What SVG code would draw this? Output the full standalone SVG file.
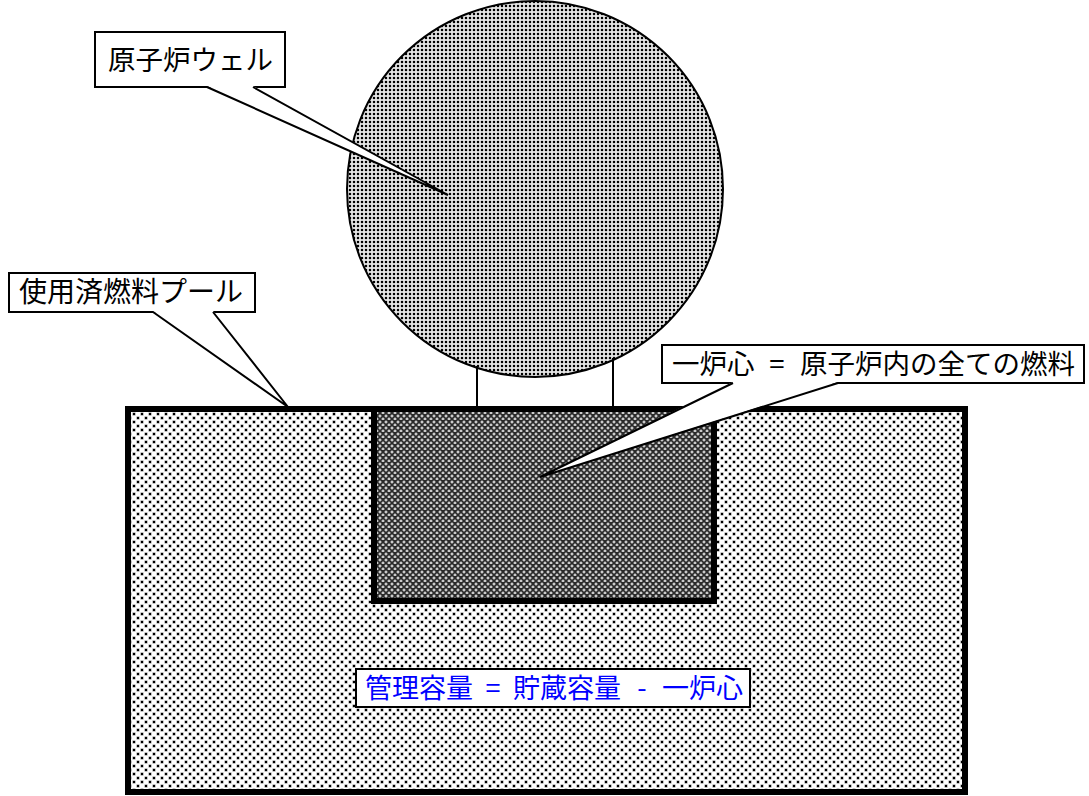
<svg xmlns="http://www.w3.org/2000/svg" width="1089" height="796" viewBox="0 0 1089 796">
<style>
.lbl{font-family:"Noto Sans CJK JP","Noto Sans",sans-serif;font-size:27px;fill:#000}
.mid{text-anchor:middle}
.blue{fill:#0000ff}
.box{fill:#fff;stroke:#000;stroke-width:2}
.tail{fill:#fff;stroke:none}
.tline{fill:none;stroke:#000;stroke-width:2;stroke-linejoin:miter}
.ln{stroke:#000;stroke-width:2}
</style>
<defs>
<pattern id="pWell" width="4" height="4" patternUnits="userSpaceOnUse">
<rect width="4" height="4" fill="#fff"/>
<rect x="0.5" y="0.5" width="3" height="3" fill="#999"/>
<rect x="1" y="1" width="2" height="2" fill="#000"/>
</pattern>
<pattern id="pPool" width="8" height="8" patternUnits="userSpaceOnUse">
<rect width="8" height="8" fill="#fff"/>
<rect x="0.5" y="0.5" width="3" height="3" fill="#888"/>
<rect x="1" y="1" width="2" height="2" fill="#000"/>
<rect x="4.5" y="4.5" width="3" height="3" fill="#888"/>
<rect x="5" y="5" width="2" height="2" fill="#000"/>
</pattern>
<pattern id="pCore" width="6" height="6" patternUnits="userSpaceOnUse">
<rect width="6" height="6" fill="#2a2a2a"/>
<rect x="0.5" y="1.5" width="3" height="1" fill="#fff"/>
<rect x="1.5" y="0.5" width="1" height="3" fill="#fff"/>
<rect x="3.5" y="4.5" width="3" height="1" fill="#fff"/>
<rect x="4.5" y="3.5" width="1" height="3" fill="#fff"/>
<rect x="-0.5" y="4.5" width="1" height="1" fill="#fff"/>
</pattern>
</defs>

<g id="reactor-well">
<circle cx="535" cy="189" r="188" fill="url(#pWell)" stroke="#000" stroke-width="2"/>
</g>

<g id="connectors">
<line class="ln" x1="477" y1="366" x2="477" y2="407"/>
<line class="ln" x1="613" y1="358" x2="613" y2="407"/>
</g>

<g id="spent-fuel-pool">
<rect x="128" y="409" width="837" height="383" fill="url(#pPool)" stroke="#000" stroke-width="6"/>
</g>

<g id="core">
<rect x="374" y="409" width="340" height="192" fill="url(#pCore)" stroke="#000" stroke-width="6"/>
</g>

<g id="label-well">
<rect class="box" x="95" y="32" width="190" height="55"/>
<polygon class="tail" points="207,86 448,195 253,86"/>
<polyline class="tline" points="207,87 448,195 253,87"/>
<text class="lbl" x="108" y="70" style="font-size:27.5px">原子炉ウェル</text>
</g>

<g id="label-pool">
<rect class="box" x="9" y="273" width="246" height="39"/>
<polygon class="tail" points="153,311 288,407 213,311"/>
<polyline class="tline" points="153,312 288,407 213,312"/>
<text class="lbl" x="19" y="302" style="font-size:28px">使用済燃料プール</text>
</g>

<g id="label-core">
<rect class="box" x="662" y="345" width="422" height="38"/>
<polygon class="tail" points="733,382 540,477 838,382"/>
<polyline class="tline" points="733,383 540,477 838,383"/>
<text class="lbl" x="672" y="374" style="font-size:27.5px">一炉心</text>
<text class="lbl mid" x="777" y="374" style="font-size:27.5px">=</text>
<text class="lbl" x="800" y="374" style="font-size:27.5px">原子炉内の全ての燃料</text>
</g>

<g id="label-capacity">
<rect class="box" x="356" y="669" width="394" height="38"/>
<text class="lbl blue" x="365" y="698">管理容量</text>
<text class="lbl blue mid" x="493" y="698">=</text>
<text class="lbl blue" x="513" y="698">貯蔵容量</text>
<text class="lbl blue mid" x="642" y="698">-</text>
<text class="lbl blue" x="662" y="698">一炉心</text>
</g>
</svg>
